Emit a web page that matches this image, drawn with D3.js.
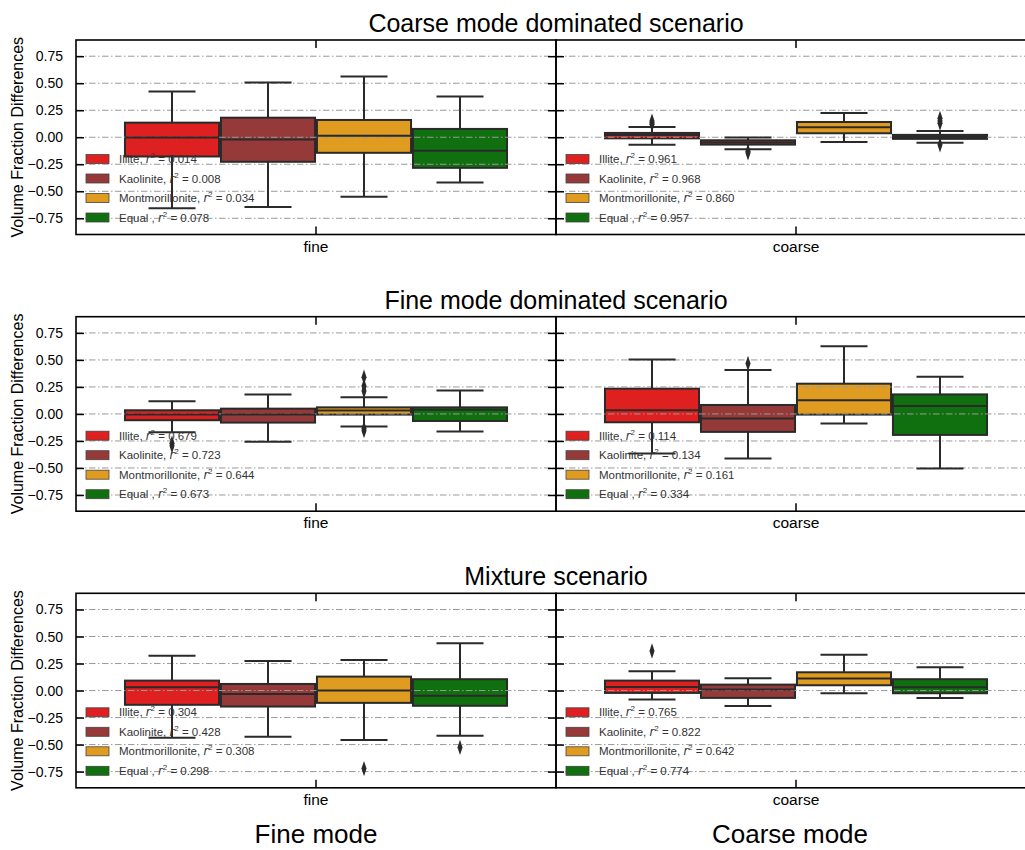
<!DOCTYPE html>
<html>
<head>
<meta charset="utf-8">
<script src="https://cdn.jsdelivr.net/npm/d3@7"></script>
<style>
  body { margin: 0; background: #fff; }
  text { font-family: "Liberation Sans", Arial, sans-serif; }
</style>
</head>
<body>
<svg id="chart" width="1025" height="850"></svg>
<script>
// categories
var scenarios = ['Coarse mode dominated scenario', 'Fine mode dominated scenario', 'Mixture scenario'];
var modes = ['fine', 'coarse'];
var modeTitles = ['Fine mode', 'Coarse mode'];
var minerals = ['Illite', 'Kaolinite', 'Montmorillonite', 'Equal'];
var mineralLabels = ['Illite,', 'Kaolinite,', 'Montmorillonite,', 'Equal ,'];
var colors = ['#df2020', '#963939', '#df9c20', '#107010'];
var yTicks = [-0.75, -0.5, -0.25, 0, 0.25, 0.5, 0.75];

// box stats per mineral: [low whisker, q1, median, q3, high whisker]
var coarseDomFine = [[-0.658, -0.178, -0.003, 0.135, 0.424], [-0.646, -0.227, -0.02, 0.181, 0.507],
  [-0.55, -0.144, 0.015, 0.16, 0.563], [-0.418, -0.283, -0.126, 0.077, 0.378]];
var coarseDomCoarse = [[-0.07, -0.01, 0.02, 0.04, 0.095], [-0.11, -0.068, -0.049, -0.028, -0.003],
  [-0.043, 0.037, 0.092, 0.141, 0.224], [-0.05, -0.015, 0.003, 0.022, 0.058]];
var fineDomFine = [[-0.169, -0.058, -0.006, 0.034, 0.117], [-0.258, -0.08, -0.006, 0.049, 0.181],
  [-0.117, -0.006, 0.031, 0.061, 0.154], [-0.163, -0.065, 0.04, 0.061, 0.218]];
var fineDomCoarse = [[-0.366, -0.077, 0.034, 0.234, 0.504], [-0.412, -0.166, -0.043, 0.083, 0.406],
  [-0.089, -0.006, 0.126, 0.28, 0.627], [-0.504, -0.194, 0.074, 0.181, 0.344]];
var mixtureFine = [[-0.437, -0.132, 0.031, 0.092, 0.323], [-0.427, -0.148, -0.031, 0.061, 0.274],
  [-0.458, -0.114, 0, 0.129, 0.283], [-0.418, -0.141, -0.049, 0.105, 0.437]];
var mixtureCoarse = [[-0.083, -0.022, 0.034, 0.092, 0.178], [-0.144, -0.068, 0.009, 0.055, 0.114],
  [-0.025, 0.049, 0.111, 0.169, 0.332], [-0.068, -0.025, 0.031, 0.105, 0.215]];

// outliers per mineral
var coarseDomFineOut = [[], [], [], []];
var coarseDomCoarseOut = [[0.12, 0.135, 0.15], [-0.13, -0.145], [], [0.13, 0.15, 0.175, -0.07]];
var fineDomFineOut = [[-0.27, -0.295], [], [0.212, 0.258, 0.34, -0.135, -0.155], []];
var fineDomCoarseOut = [[], [0.467], [], []];
var mixtureFineOut = [[], [], [-0.722], [-0.526]];
var mixtureCoarseOut = [[0.366], [], [], []];

// r^2 values
var coarseDomFineR2 = ['0.014', '0.008', '0.034', '0.078'];
var coarseDomCoarseR2 = ['0.961', '0.968', '0.860', '0.957'];
var fineDomFineR2 = ['0.679', '0.723', '0.644', '0.673'];
var fineDomCoarseR2 = ['0.114', '0.134', '0.161', '0.334'];
var mixtureFineR2 = ['0.304', '0.428', '0.308', '0.298'];
var mixtureCoarseR2 = ['0.765', '0.822', '0.642', '0.774'];

var stats = [[coarseDomFine, coarseDomCoarse], [fineDomFine, fineDomCoarse], [mixtureFine, mixtureCoarse]];
var outliers = [[coarseDomFineOut, coarseDomCoarseOut], [fineDomFineOut, fineDomCoarseOut], [mixtureFineOut, mixtureCoarseOut]];
var r2 = [[coarseDomFineR2, coarseDomCoarseR2], [fineDomFineR2, fineDomCoarseR2], [mixtureFineR2, mixtureCoarseR2]];

var svg = d3.select('#chart');
var lineColor = '#2a2a2a';
var lw = 2;
var panelLeft = 76;
var panelWidth = 480;
var panelHeight = 194.5;
var panelTops = [40, 316.7, 593.3];

var hueScale = d3.scaleBand().domain(minerals).range([-0.4, 0.4]);
var diamond = d3.symbol().type(d3.symbolDiamond).size(40);

scenarios.forEach(function (title, si) {
  var top = panelTops[si];
  var yScale = d3.scaleLinear().domain([-0.9, 0.9]).range([top + panelHeight, top]);

  svg.append('text')
      .attr('x', panelLeft + panelWidth)
      .attr('y', top - 8)
      .attr('text-anchor', 'middle')
      .attr('font-size', 25)
      .text(title);

  svg.append('text')
      .attr('transform', 'translate(23,' + (top + panelHeight / 2) + ') rotate(-90)')
      .attr('text-anchor', 'middle')
      .attr('font-size', 16)
      .text('Volume Fraction Differences');

  modes.forEach(function (mode, mi) {
    var left = panelLeft + mi * panelWidth;
    var xScale = d3.scaleLinear().domain([-0.5, 0.5]).range([left, left + panelWidth]);
    var g = svg.append('g');
    var boxW = xScale(hueScale.bandwidth() * 0.98) - xScale(0);
    var data = stats[si][mi].map(function (s, k) {
      return { name: minerals[k], s: s, color: colors[k], cx: xScale(hueScale(minerals[k]) + hueScale.bandwidth() / 2), out: outliers[si][mi][k] };
    });

    // boxes
    g.selectAll('rect.box').data(data).enter().append('rect')
        .attr('class', 'box')
        .attr('x', function (d) { return d.cx - boxW / 2; })
        .attr('y', function (d) { return yScale(d.s[3]); })
        .attr('width', boxW)
        .attr('height', function (d) { return yScale(d.s[1]) - yScale(d.s[3]); })
        .attr('fill', function (d) { return d.color; })
        .attr('stroke', lineColor)
        .attr('stroke-width', lw);

    // grid (drawn above box patches, below lines)
    g.selectAll('line.grid').data(yTicks).enter().append('line')
        .attr('x1', left).attr('x2', left + panelWidth)
        .attr('y1', yScale).attr('y2', yScale)
        .attr('stroke', '#9a9a9a')
        .attr('stroke-width', 1)
        .attr('stroke-dasharray', '6.5,2.5,1.5,2.5');

    // whiskers, caps, medians, fliers
    data.forEach(function (d) {
      g.append('line').attr('x1', d.cx).attr('x2', d.cx)
          .attr('y1', yScale(d.s[3])).attr('y2', yScale(d.s[4]))
          .attr('stroke', lineColor).attr('stroke-width', lw);
      g.append('line').attr('x1', d.cx).attr('x2', d.cx)
          .attr('y1', yScale(d.s[1])).attr('y2', yScale(d.s[0]))
          .attr('stroke', lineColor).attr('stroke-width', lw);
      [d.s[0], d.s[4]].forEach(function (v) {
        g.append('line').attr('x1', d.cx - boxW / 4).attr('x2', d.cx + boxW / 4)
            .attr('y1', yScale(v)).attr('y2', yScale(v))
            .attr('stroke', lineColor).attr('stroke-width', lw);
      });
      g.append('line').attr('x1', d.cx - boxW / 2).attr('x2', d.cx + boxW / 2)
          .attr('y1', yScale(d.s[2])).attr('y2', yScale(d.s[2]))
          .attr('stroke', lineColor).attr('stroke-width', lw);
      d.out.forEach(function (v) {
        g.append('path').attr('d', diamond)
            .attr('transform', 'translate(' + d.cx + ',' + yScale(v) + ') scale(0.75,1.3)')
            .attr('fill', lineColor);
      });
    });

    // spines
    g.append('rect')
        .attr('x', left).attr('y', top)
        .attr('width', panelWidth).attr('height', panelHeight)
        .attr('fill', 'none').attr('stroke', '#000').attr('stroke-width', 1.6);

    // y ticks, inward on both sides
    var yAxis = d3.axisLeft(yScale).tickValues(yTicks).tickSize(-8).tickPadding(mi === 0 ? 13 : 0)
        .tickFormat(mi === 0 ? d3.format('.2f') : '');
    var ya = g.append('g').attr('transform', 'translate(' + left + ',0)').call(yAxis);
    ya.select('.domain').remove();
    ya.selectAll('line').attr('stroke', '#000').attr('stroke-width', 1.5);
    ya.selectAll('text').attr('font-size', 14).attr('fill', '#000')
        .attr('font-family', '"Liberation Sans", Arial, sans-serif');
    var yr = g.append('g').attr('transform', 'translate(' + (left + panelWidth) + ',0)')
        .call(d3.axisRight(yScale).tickValues(yTicks).tickSize(-8).tickFormat(''));
    yr.select('.domain').remove();
    yr.selectAll('line').attr('stroke', '#000').attr('stroke-width', 1.5);

    // x ticks, inward top and bottom
    [top, top + panelHeight].forEach(function (yy, k) {
      g.append('line').attr('x1', xScale(0)).attr('x2', xScale(0))
          .attr('y1', yy).attr('y2', k === 0 ? yy + 8 : yy - 8)
          .attr('stroke', '#000').attr('stroke-width', 1.5);
    });
    g.append('text')
        .attr('x', xScale(0)).attr('y', top + panelHeight + 17)
        .attr('text-anchor', 'middle').attr('font-size', 15.5)
        .text(mode);

    // legend, no frame
    var lg = g.append('g');
    data.forEach(function (d, k) {
      var cy = top + panelHeight - 17 - (3 - k) * 19.5;
      lg.append('rect')
          .attr('x', left + 10).attr('y', cy - 4.5)
          .attr('width', 23).attr('height', 9)
          .attr('fill', d.color).attr('stroke', '#444').attr('stroke-width', 0.8);
      var t = lg.append('text')
          .attr('x', left + 43).attr('y', cy + 4)
          .attr('font-size', 11.5).attr('fill', '#333');
      t.append('tspan').text(mineralLabels[k] + ' ');
      t.append('tspan').attr('font-style', 'italic').attr('font-family', '"DejaVu Sans", sans-serif').text('r');
      t.append('tspan').attr('font-size', 8).attr('dy', -5).text('2');
      t.append('tspan').attr('dy', 5).text(' = ' + r2[si][mi][k]);
    });
  });
});

modeTitles.forEach(function (t, i) {
  svg.append('text')
      .attr('x', i === 0 ? 316 : 790).attr('y', 843)
      .attr('text-anchor', 'middle').attr('font-size', 26)
      .text(t);
});
</script>
</body>
</html>
